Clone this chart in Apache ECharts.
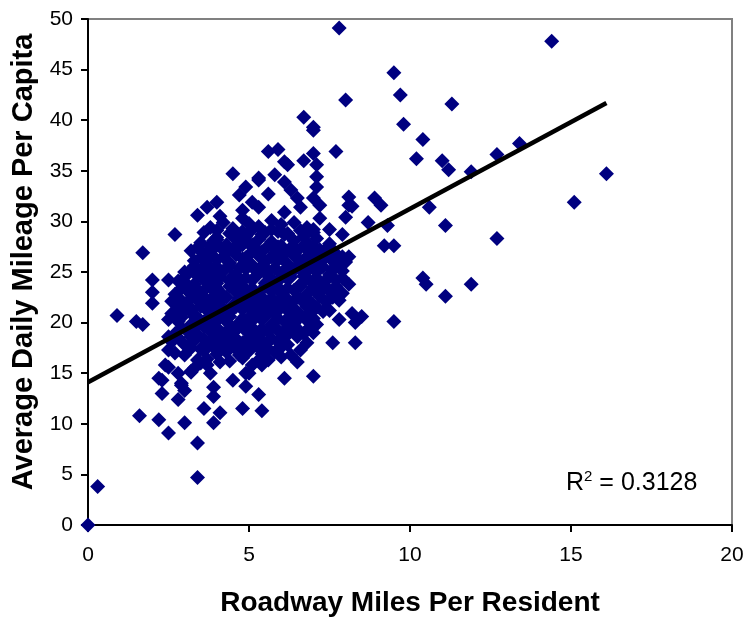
<!DOCTYPE html>
<html>
<head>
<meta charset="utf-8">
<script src="https://cdn.jsdelivr.net/npm/echarts@6/dist/echarts.min.js"></script>
<style>
  html, body { margin: 0; padding: 0; background: #fff; }
  #chart { width: 746px; height: 620px; }
</style>
</head>
<body>
<div id="chart"></div>
<script>
// outlying / edge points [miles, mileage]
const edgePoints = [
  [0,0],[0.3,3.8],[3.4,4.7],[3.4,8.1],[1.6,10.8],[2.2,10.4],[2.5,9.1],[3.0,10.1],[3.6,11.5],[4.1,11.1],
  [3.9,10.1],[4.8,11.5],[5.4,11.3],[5.3,12.9],[6.1,14.5],[7.0,14.7],[6.5,16.1],[4.5,14.3],[4.9,13.7],[2.3,13.0],
  [2.3,14.3],[2.8,12.4],[3.2,15.2],[3.9,12.7],[7.6,18.0],[8.3,18.0],
  [8.1,32.4],[8.2,31.5],[8.9,32.3],[9.1,31.6],[8.0,30.4],[8.7,29.9],[9.3,29.6],[10.6,31.4],[11.1,29.6],[12.7,28.3],
  [9.2,27.6],[9.5,27.6],[8.1,26.5],[10.4,24.4],[10.5,23.8],[11.9,23.8],[11.1,22.6],[9.5,20.1],[8.2,20.9],[8.5,20.6],
  [8.3,20.0],[7.8,22.2],[7.5,21.2],[7.8,20.3],[7.6,25.2],[7.4,23.5],[7.5,27.5],[11.2,35.1],[11.9,34.9],
  [7.8,49.1],[14.4,47.8],[9.5,44.7],[9.7,42.5],[8.0,42.0],[11.3,41.6],[9.8,39.6],[10.4,38.1],[7.7,36.9],[10.2,36.2],
  [11.0,36.0],[12.7,36.6],[13.4,37.7],[16.1,34.7],[15.1,31.9],
  [6.7,40.3],[7.0,39.3],[5.6,36.9],[5.9,37.1],[6.1,35.9],[6.2,35.6],[6.7,36.0],[7.0,36.7],[7.1,35.6],[4.5,34.7],
  [5.3,34.3],[5.8,34.6],[7.1,34.4],[7.0,39.0],[5.3,34.1],[6.1,33.9],[7.1,33.4],[4.9,33.4],[5.6,32.7],[6.3,33.1],
  [4.7,32.6],[5.1,31.9],[6.5,32.3],[7.0,32.3],[4.0,31.9],[3.7,31.4],[3.4,30.6],[4.1,30.5],[4.8,31.1],[5.3,31.4],
  [6.1,30.9],[6.6,31.4],[7.2,31.6],[7.2,30.3],[8.1,31.6],[2.7,28.7],[4.8,30.3],[5.7,30.1],[7.0,29.2],[7.5,29.2],
  [4.0,28.4],[4.5,28.7],[4.9,28.5],[5.4,28.7],[6.1,28.7],[6.7,28.5],[7.9,28.7],
  [1.7,26.9],[4.0,28.2],[4.6,28.2],[5.1,27.7],[3.7,26.9],[3.0,25.0],[3.4,25.2],[2.5,24.2],[2.0,24.2],[2.0,23.0],
  [2.0,21.9],[3.0,24.0],[0.9,20.7],[1.5,20.1],[1.7,19.8],[2.5,20.3],[2.5,18.6],[3.2,21.2],[3.6,22.5],[3.2,22.9],
  [2.5,17.3],[2.4,15.8],[2.9,14.0],[3.0,13.3],[3.2,15.1],[3.4,16.3],[3.9,13.6],[3.8,15.0],[4.1,16.1],[4.9,15.0],
  [5.3,16.3],[6.0,17.6],[6.6,17.3],[6.8,18.0],[2.9,13.8],[3.7,15.8],[5.1,15.8],[5.4,15.8],[5.0,15.0],[2.8,15.0],
  [2.2,14.5],[2.5,15.6],[3.3,15.5],[3.5,16.0]
];

// dense middle of the cloud
const corePoints = [
  [3.8,29.4],[4.2,29.9],[4.5,29.3],[5.0,29.8],[5.3,29.5],[5.7,29.2],[6.0,29.7],[6.4,29.9],[6.8,29.4],
  [3.6,28.9],[4.0,29.1],[4.4,28.8],[4.8,29.0],[5.1,29.2],[5.5,28.9],[5.9,29.0],[6.2,28.8],[6.6,29.1],[7.0,28.9],
  [3.5,27.9],[3.9,28.1],[4.3,27.7],[4.6,28.3],[5.0,27.8],[5.3,28.2],[5.7,28.0],[6.0,27.6],[6.4,28.1],[6.8,27.9],[7.1,28.3],[7.5,27.8],
  [3.4,27.4],[3.8,27.6],[4.1,27.5],[4.5,27.3],[4.8,27.7],[5.2,27.4],[5.6,27.6],[5.9,27.5],[6.3,27.4],[6.7,27.6],[7.0,27.5],[7.4,27.3],
  [3.2,27.1],[3.6,26.8],[3.9,27.3],[4.3,26.9],[4.6,27.2],[5.0,26.7],[5.4,27.0],[5.8,27.3],[6.1,26.8],[6.5,27.1],[6.9,26.9],[7.2,27.2],[7.7,26.8],
  [3.5,26.4],[3.8,26.6],[4.2,26.5],[4.6,26.7],[4.9,26.4],[5.3,26.6],[5.7,26.5],[6.0,26.4],[6.4,26.6],[6.8,26.5],[7.1,26.7],[7.5,26.4],[7.9,26.5],
  [3.3,26.1],[3.7,25.8],[4.0,26.2],[4.4,25.9],[4.8,26.3],[5.1,25.7],[5.5,26.0],[5.9,26.2],[6.2,25.8],[6.6,26.1],[7.0,25.9],[7.3,26.2],[7.7,25.8],[8.0,26.0],
  [3.3,25.6],[3.7,25.4],[4.0,25.5],[4.4,25.6],[4.7,25.4],[5.1,25.5],[5.4,25.6],[5.8,25.4],[6.2,25.5],[6.5,25.6],[6.9,25.4],[7.3,25.5],[7.7,25.6],
  [3.1,24.9],[3.5,25.2],[3.8,24.8],[4.2,25.1],[4.6,24.7],[4.9,25.3],[5.3,24.9],[5.6,25.1],[6.0,24.8],[6.4,25.2],[6.7,24.9],[7.1,25.0],[7.5,24.7],[7.9,25.1],
  [3.0,24.5],[3.4,24.6],[3.8,24.4],[4.1,24.5],[4.5,24.6],[4.9,24.4],[5.2,24.5],[5.6,24.6],[6.0,24.4],[6.3,24.5],[6.7,24.6],[7.1,24.4],[7.5,24.5],[7.9,24.4],
  [2.8,24.1],[3.3,23.8],[3.6,24.2],[4.0,23.9],[4.4,24.1],[4.7,23.7],[5.1,24.2],[5.5,23.9],[5.8,24.0],[6.2,24.3],[6.6,23.8],[6.9,24.1],[7.3,23.9],[7.7,24.2],[8.1,23.8],
  [2.9,23.4],[3.3,23.6],[3.7,23.5],[4.0,23.4],[4.4,23.6],[4.8,23.5],[5.1,23.4],[5.5,23.6],[5.9,23.5],[6.2,23.4],[6.6,23.6],[7.0,23.5],[7.3,23.4],[7.7,23.6],
  [2.7,22.8],[3.1,23.1],[3.5,22.9],[3.9,23.2],[4.2,22.7],[4.6,23.0],[4.9,23.3],[5.3,22.8],[5.7,23.1],[6.0,22.9],[6.4,23.2],[6.8,22.8],[7.1,23.0],[7.5,23.1],[7.9,22.9],
  [2.8,22.5],[3.2,22.4],[3.9,22.6],[4.3,22.5],[4.7,22.4],[5.0,22.6],[5.4,22.5],[5.7,22.4],[6.1,22.6],[6.5,22.5],[6.8,22.4],[7.2,22.6],[7.6,22.5],
  [2.6,22.1],[3.0,21.8],[3.4,22.2],[3.7,21.9],[4.1,22.1],[4.5,21.7],[4.8,22.2],[5.2,22.0],[5.5,21.8],[5.9,22.1],[6.3,21.9],[6.6,22.3],[7.0,21.8],[7.4,22.0],
  [2.8,21.5],[3.2,21.4],[3.5,21.6],[3.9,21.5],[4.2,21.4],[4.6,21.6],[5.0,21.5],[5.3,21.4],[5.7,21.6],[6.0,21.5],[6.4,21.4],[6.8,21.6],[7.1,21.5],
  [2.6,20.9],[3.0,21.1],[3.3,20.8],[3.7,21.2],[4.0,20.9],[4.4,21.0],[4.8,21.3],[5.1,20.8],[5.5,21.1],[5.8,20.9],[6.2,21.2],[6.6,20.8],[6.9,21.0],[7.3,21.1],
  [2.9,20.5],[3.3,20.6],[3.7,20.4],[4.1,20.5],[4.4,20.6],[4.8,20.4],[5.2,20.5],[5.5,20.6],[5.9,20.4],[6.3,20.5],[6.6,20.6],[7.0,20.4],
  [2.8,20.1],[3.2,19.8],[3.5,20.2],[3.9,19.9],[4.3,20.1],[4.6,19.7],[5.0,20.0],[5.4,20.3],[5.7,19.8],[6.1,20.1],[6.4,19.9],[6.8,20.2],[7.1,19.8],
  [2.9,19.5],[3.3,19.4],[3.6,19.6],[4.0,19.5],[4.4,19.4],[4.7,19.6],[5.1,19.5],[5.4,19.4],[5.8,19.6],[6.2,19.5],[6.5,19.4],[6.9,19.6],
  [2.7,18.9],[3.1,19.1],[3.4,18.8],[3.8,19.2],[4.2,18.9],[4.5,19.0],[4.9,19.2],[5.3,18.8],[5.6,19.1],[6.0,18.9],[6.3,19.2],[6.7,18.9],[7.0,19.0],
  [2.8,18.5],[3.2,18.6],[3.6,18.4],[3.9,18.5],[4.3,18.6],[4.6,18.4],[5.0,18.5],[5.3,18.6],[5.7,18.4],[6.1,18.5],[6.5,18.6],
  [2.6,18.1],[3.0,17.8],[3.3,18.2],[3.7,17.9],[4.1,18.1],[4.4,17.8],[4.8,18.0],[5.1,18.2],[5.5,17.9],[5.9,18.1],[6.2,17.8],
  [3.2,17.5],[3.5,17.4],[3.9,17.6],[4.2,17.5],[4.6,17.4],[4.9,17.6],[5.3,17.5],[5.6,17.4],[6.0,17.6],
  [2.7,17.0],[3.0,16.8],[3.6,17.2],[4.0,16.9],[4.3,17.1],[4.7,16.8],[5.0,17.2],[5.4,16.9],[5.8,17.1],[6.3,16.8],
  [3.7,16.4],[4.4,16.2],[4.8,16.5],[5.6,16.3],[6.0,16.6]
];

// linear trend line end points
const trendLine = [[0, 14.1], [16.1, 41.7]];
const r2Value = '0.3128';

const xTicks = { min: 0, max: 20, interval: 5 };
const yTicks = { min: 0, max: 50, interval: 5 };

const font = "'Liberation Sans', Arial, sans-serif";
const chart = echarts.init(document.getElementById('chart'));

chart.setOption({
  animation: false,
  backgroundColor: '#fff',
  grid: {
    left: 88, right: 14, top: 19, bottom: 95,
    outerBoundsMode: 'none',
    show: true, borderColor: '#808080', borderWidth: 2
  },
  xAxis: {
    type: 'value',
    min: xTicks.min, max: xTicks.max, interval: xTicks.interval,
    name: 'Roadway Miles Per Resident',
    nameLocation: 'middle',
    nameGap: 64,
    nameTextStyle: { fontFamily: font, fontWeight: 'bold', fontSize: 28, color: '#000' },
    axisLine: { onZero: false, lineStyle: { color: '#000', width: 2 } },
    axisTick: { inside: false, length: 7, lineStyle: { color: '#000', width: 2 } },
    axisLabel: { margin: 20, fontFamily: font, fontSize: 21, color: '#000' },
    splitLine: { show: false }
  },
  yAxis: {
    type: 'value',
    min: yTicks.min, max: yTicks.max, interval: yTicks.interval,
    name: 'Average Daily Mileage Per Capita',
    nameLocation: 'middle',
    nameGap: 48,
    nameRotate: 90,
    nameTextStyle: { fontFamily: font, fontWeight: 'bold', fontSize: 29, color: '#000', padding: [0, 0, 0, 20] },
    axisLine: { onZero: false, lineStyle: { color: '#000', width: 2 } },
    axisTick: { inside: false, length: 7, lineStyle: { color: '#000', width: 2 } },
    axisLabel: { margin: 15, fontFamily: font, fontSize: 21, color: '#000' },
    splitLine: { show: false }
  },
  series: [
    {
      type: 'scatter',
      symbol: 'diamond',
      symbolSize: 15,
      itemStyle: { color: '#000080', opacity: 1 },
      data: edgePoints.concat(corePoints),
      z: 2
    },
    {
      type: 'line',
      data: trendLine,
      showSymbol: false,
      symbol: 'none',
      lineStyle: { color: '#000', width: 4.5 },
      z: 3
    }
  ],
  graphic: [
    {
      type: 'text',
      left: 566,
      top: 469,
      style: {
        text: '{a|R}{s|2}{a| = ' + r2Value + '}',
        rich: {
          a: { fontFamily: font, fontSize: 25, fill: '#000', verticalAlign: 'bottom' },
          s: { fontFamily: font, fontSize: 15, fill: '#000', padding: [0, 0, 12, 0], verticalAlign: 'bottom' }
        }
      }
    }
  ]
});
</script>
</body>
</html>
